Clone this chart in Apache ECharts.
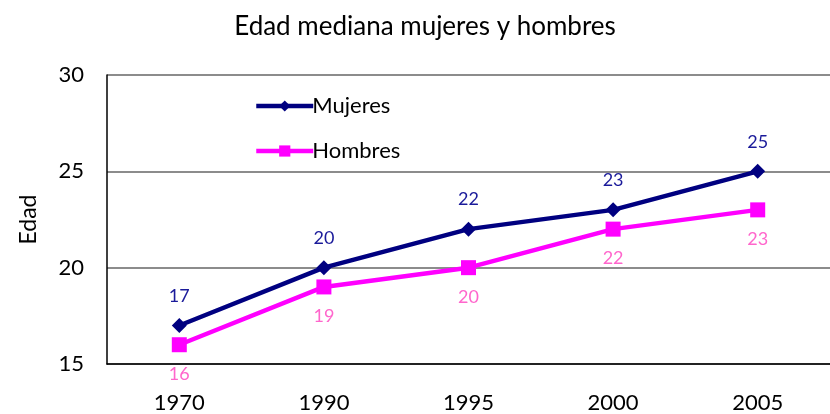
<!DOCTYPE html>
<html><head><meta charset="utf-8">
<script src="https://cdn.jsdelivr.net/npm/echarts@6/dist/echarts.min.js"></script>
<style>html,body{margin:0;padding:0;background:#fff}#c{width:830px;height:414px}</style>
</head><body><div id="c"></div>
<script>
const categories = ['1970','1990','1995','2000','2005'];
const mujeres = [17, 20, 22, 23, 25];
const hombres = [16, 19, 20, 22, 23];
const titleText = 'Edad mediana mujeres y hombres';
const yName = 'Edad';
const F = 'Lato, "Liberation Sans", sans-serif';
const chart = echarts.init(document.getElementById('c'));
chart.setOption({
  animation: false,
  title: {text: titleText, left: 420, top: 9, textAlign: 'center',
    textStyle: {fontFamily: F, fontSize: 26, fontWeight: 'normal', color: '#000'}},
  legend: {orient: 'vertical', left: 249, top: 90, itemGap: 23, itemWidth: 57, itemHeight: 14,
    lineStyle: {width: 4.5},
    textStyle: {fontFamily: F, fontSize: 22, color: '#000', padding: [0,0,0,-6]},
    data: ['Mujeres', 'Hombres']},
  grid: {left: 107, top: 75, width: 729, height: 291},
  xAxis: {type: 'category', data: categories, boundaryGap: true,
    axisLine: {lineStyle: {color: '#000', width: 1.5}}, axisTick: {show: false},
    axisLabel: {fontFamily: F, fontSize: 22, color: '#000', margin: 28}},
  yAxis: {type: 'value', min: 15, max: 30, interval: 5, name: yName, nameLocation: 'middle', nameGap: 67,
    nameTextStyle: {fontFamily: F, fontSize: 23, color: '#000'},
    axisLine: {show: true, lineStyle: {color: '#000', width: 1.5}}, axisTick: {show: false},
    axisLabel: {fontFamily: F, fontSize: 22, color: '#000', margin: 23},
    splitLine: {lineStyle: {color: '#8c8c8c', width: 2}}},
  series: [
    {name: 'Mujeres', type: 'line', data: mujeres, symbol: 'diamond', symbolSize: 15,
      lineStyle: {color: '#000080', width: 4.5}, itemStyle: {color: '#000080'},
      label: {show: true, position: 'top', distance: 13, fontFamily: F, fontSize: 18, color: '#1a1a9a'}},
    {name: 'Hombres', type: 'line', data: hombres, symbol: 'rect', symbolSize: 15,
      lineStyle: {color: '#ff00ff', width: 4.5}, itemStyle: {color: '#ff00ff'},
      label: {show: true, position: 'bottom', distance: 13, fontFamily: F, fontSize: 18, color: '#ff66cc'}}
  ]
});
</script></body></html>
